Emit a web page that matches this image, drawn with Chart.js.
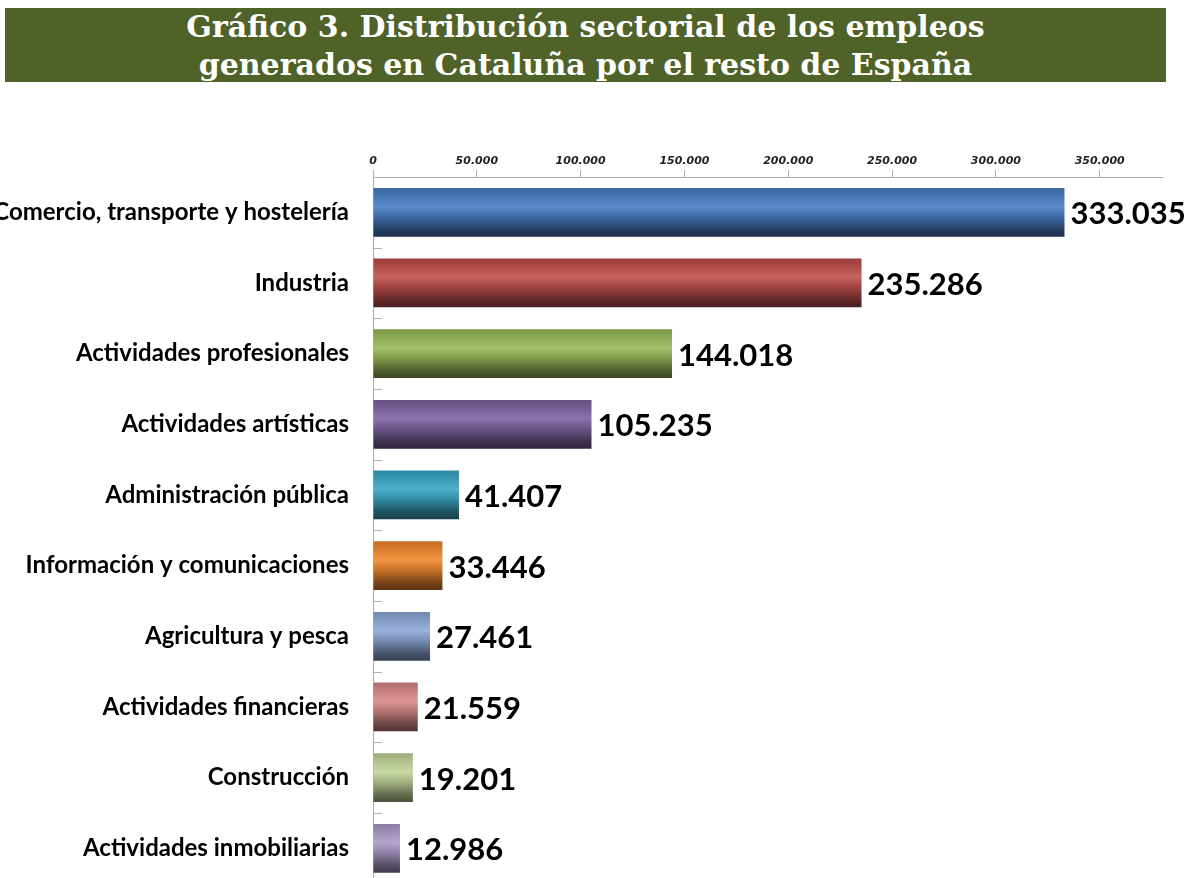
<!DOCTYPE html>
<html>
<head>
<meta charset="utf-8">
<script src="https://cdn.jsdelivr.net/npm/chart.js@4.4.0/dist/chart.umd.min.js"></script>
<style>
  html, body { margin: 0; padding: 0; background: #fff; overflow: hidden; width: 1186px; height: 878px; }
  #wrap { position: absolute; left: 0; top: 0; width: 1186px; height: 922px; }
  #title {
    position: absolute; left: 5px; top: 8px; width: 1161px; height: 74px;
    background: #4f6228; color: #fff; text-align: center;
    font-family: "DejaVu Serif", serif; font-weight: bold; font-size: 30px; line-height: 38px;
    z-index: 2;
  }
</style>
</head>
<body>
<div id="wrap">
  <div id="title">Gráfico 3. Distribución sectorial de los empleos<br>generados en Cataluña por el resto de España</div>
  <canvas id="c" width="1186" height="922" style="width:1186px;height:922px"></canvas>
</div>
<script>
const categories = [
  "Comercio, transporte y hostelería",
  "Industria",
  "Actividades profesionales",
  "Actividades artísticas",
  "Administración pública",
  "Información y comunicaciones",
  "Agricultura y pesca",
  "Actividades financieras",
  "Construcción",
  "Actividades inmobiliarias"
];
const values = [333035, 235286, 144018, 105235, 41407, 33446, 27461, 21559, 19201, 12986];
const valueLabels = ["333.035", "235.286", "144.018", "105.235", "41.407", "33.446", "27.461", "21.559", "19.201", "12.986"];
const tickValues = [0, 50000, 100000, 150000, 200000, 250000, 300000, 350000];
const tickLabels = ["0", "50.000", "100.000", "150.000", "200.000", "250.000", "300.000", "350.000"];
const axisMax = 380000;

const barColors = ["#4a7fc5", "#c0504d", "#9bbb59", "#8064a2", "#3ba8c4", "#f08a30", "#8fa9d8", "#d88a88", "#c3d69b", "#ad9cc8"];

function shade(hex, f) {
  const n = parseInt(hex.slice(1), 16);
  let r = (n >> 16) & 255, g = (n >> 8) & 255, b = n & 255;
  if (f >= 0) { r += (255 - r) * f; g += (255 - g) * f; b += (255 - b) * f; }
  else { r *= (1 + f); g *= (1 + f); b *= (1 + f); }
  return `rgb(${Math.round(r)},${Math.round(g)},${Math.round(b)})`;
}

const BAR_PCT = 0.69;

function barFill(ctx) {
  const chart = ctx.chart;
  const base = barColors[ctx.dataIndex % barColors.length];
  const area = chart.chartArea;
  if (!area || !chart.scales.y) return base;
  const yc = chart.scales.y.getPixelForValue(ctx.dataIndex);
  const band = (area.bottom - area.top) / categories.length;
  const h = band * BAR_PCT / 2;
  const g = chart.ctx.createLinearGradient(0, yc - h, 0, yc + h);
  g.addColorStop(0, shade(base, -0.2));
  g.addColorStop(0.12, shade(base, -0.12));
  g.addColorStop(0.38, shade(base, 0.1));
  g.addColorStop(0.6, shade(base, -0.18));
  g.addColorStop(0.85, shade(base, -0.5));
  g.addColorStop(1, shade(base, -0.62));
  return g;
}

const valueLabelPlugin = {
  id: 'valueLabels',
  afterDatasetsDraw(chart) {
    const ctx = chart.ctx;
    const meta = chart.getDatasetMeta(0);
    ctx.save();
    ctx.font = 'bold 31px Lato, "Open Sans", sans-serif';
    ctx.fillStyle = '#000';
    ctx.textAlign = 'left';
    ctx.textBaseline = 'middle';
    meta.data.forEach((el, i) => {
      ctx.fillText(valueLabels[i], el.x + 6, el.y + 2);
    });
    ctx.restore();
  }
};

const innerTicksPlugin = {
  id: 'innerTicks',
  afterDraw(chart) {
    const ctx = chart.ctx;
    const area = chart.chartArea;
    const n = categories.length;
    const band = (area.bottom - area.top) / n;
    ctx.save();
    ctx.strokeStyle = '#b0b0b0';
    ctx.lineWidth = 1;
    for (let i = 0; i <= n; i++) {
      const y = Math.round(area.top + i * band) + 0.5;
      ctx.beginPath();
      ctx.moveTo(area.left, y);
      ctx.lineTo(area.left + 9, y);
      ctx.stroke();
    }
    ctx.restore();
  }
};

new Chart(document.getElementById('c'), {
  type: 'bar',
  data: {
    labels: categories,
    datasets: [{
      data: values,
      backgroundColor: barFill,
      borderWidth: 0,
      categoryPercentage: 1,
      barPercentage: BAR_PCT
    }]
  },
  options: {
    indexAxis: 'y',
    responsive: false,
    animation: false,
    layout: { padding: { left: 0, right: 24, top: 0, bottom: 0 } },
    plugins: { legend: { display: false }, tooltip: { enabled: false }, title: { display: false } },
    scales: {
      x: {
        position: 'top',
        min: 0,
        max: axisMax,
        afterBuildTicks(scale) {
          scale.ticks = tickValues.map(v => ({ value: v }));
        },
        afterFit(scale) { scale.height = 177; },
        ticks: {
          autoSkip: false,
          padding: 2,
          color: '#222',
          font: { family: '"DejaVu Sans", Verdana, sans-serif', size: 11, weight: 'bold', style: 'italic' },
          callback: (v, i) => tickLabels[i],
          maxRotation: 0
        },
        grid: { drawOnChartArea: false, drawTicks: true, tickLength: 7, color: '#b0b0b0' },
        border: { display: true, color: '#a8a8a8' }
      },
      y: {
        afterFit(scale) { scale.width = 373; },
        ticks: {
          padding: 24,
          color: '#000',
          font: { family: 'Lato, "Open Sans", sans-serif', size: 24, weight: 'bold' }
        },
        grid: { display: false, drawTicks: false },
        border: { display: true, color: '#a8a8a8' }
      }
    }
  },
  plugins: [valueLabelPlugin, innerTicksPlugin]
});
</script>
</body>
</html>
